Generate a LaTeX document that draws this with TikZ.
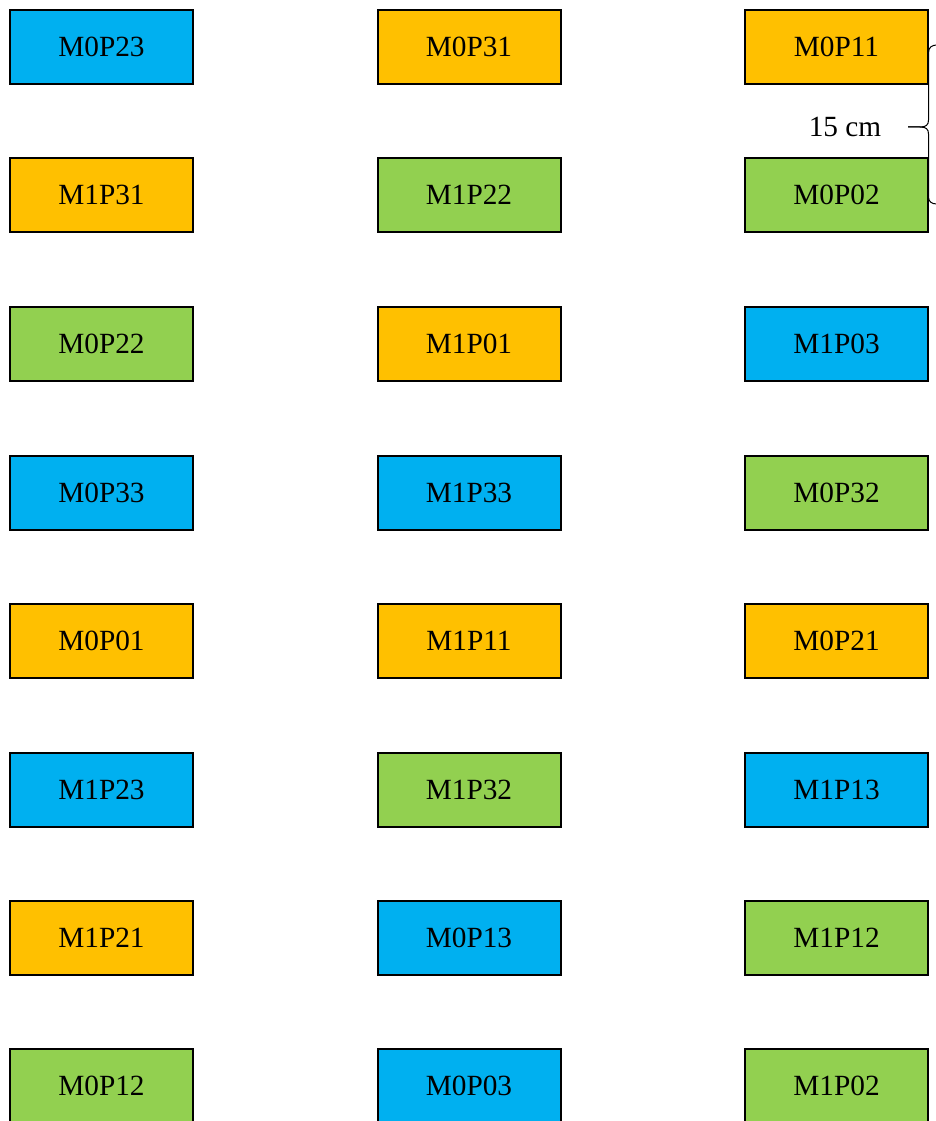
\documentclass[tikz,border=0pt]{standalone}
\usepackage{fontspec}
\setmainfont{Liberation Serif}
\definecolor{cblue}{HTML}{00B0F0}
\definecolor{corange}{HTML}{FFC000}
\definecolor{cgreen}{HTML}{92D050}
\begin{document}
\begin{tikzpicture}[x=1pt,y=-1pt,
  cell/.style={draw=black,line width=2pt,minimum width=183pt,minimum height=74pt,inner sep=0pt,font=\fontsize{29.3}{35}\selectfont},
  B/.style={cell,fill=cblue},
  O/.style={cell,fill=corange},
  G/.style={cell,fill=cgreen}]
\useasboundingbox (0,0) rectangle (936,1121);
\clip (0,0) rectangle (936,1121);
\def\ca{101.5}\def\cb{469}\def\cc{836.5}
% row 1
\node[B] (m0p23) at (\ca,47) {M0P23};
\node[O] (m0p31) at (\cb,47) {M0P31};
\node[O] (m0p11) at (\cc,47) {M0P11};
% row 2
\node[O] (m1p31) at (\ca,195) {M1P31};
\node[G] (m1p22) at (\cb,195) {M1P22};
\node[G] (m0p02) at (\cc,195) {M0P02};
% row 3
\node[G] (m0p22) at (\ca,344) {M0P22};
\node[O] (m1p01) at (\cb,344) {M1P01};
\node[B] (m1p03) at (\cc,344) {M1P03};
% row 4
\node[B] (m0p33) at (\ca,492.5) {M0P33};
\node[B] (m1p33) at (\cb,492.5) {M1P33};
\node[G] (m0p32) at (\cc,492.5) {M0P32};
% row 5
\node[O] (m0p01) at (\ca,641) {M0P01};
\node[O] (m1p11) at (\cb,641) {M1P11};
\node[O] (m0p21) at (\cc,641) {M0P21};
% row 6
\node[B] (m1p23) at (\ca,789.5) {M1P23};
\node[G] (m1p32) at (\cb,789.5) {M1P32};
\node[B] (m1p13) at (\cc,789.5) {M1P13};
% row 7
\node[O] (m1p21) at (\ca,938) {M1P21};
\node[B] (m0p13) at (\cb,938) {M0P13};
\node[G] (m1p12) at (\cc,938) {M1P12};
% row 8
\node[G] (m0p12) at (\ca,1086) {M0P12};
\node[B] (m0p03) at (\cb,1086) {M0P03};
\node[G] (m1p02) at (\cc,1086) {M1P02};
% brace and label
\node[font=\fontsize{29.3}{35}\selectfont,inner sep=0pt] (lbl) at (845,127) {15 cm};
\coordinate (bt) at (937,45);
\coordinate (bb) at (937,204);
\coordinate (tip) at (908,127);
\draw[line width=1pt] (bt) .. controls (932,45) and (928.5,47) .. (928.5,53) -- (928.5,120)
  .. controls (928.5,125) and (926,127) .. (920,127) -- (tip);
\draw[line width=1pt] (tip) -- (920,127) .. controls (926,127) and (928.5,129) .. (928.5,134)
  -- (928.5,197) .. controls (928.5,202) and (932,204) .. (bb);
\end{tikzpicture}
\end{document}
